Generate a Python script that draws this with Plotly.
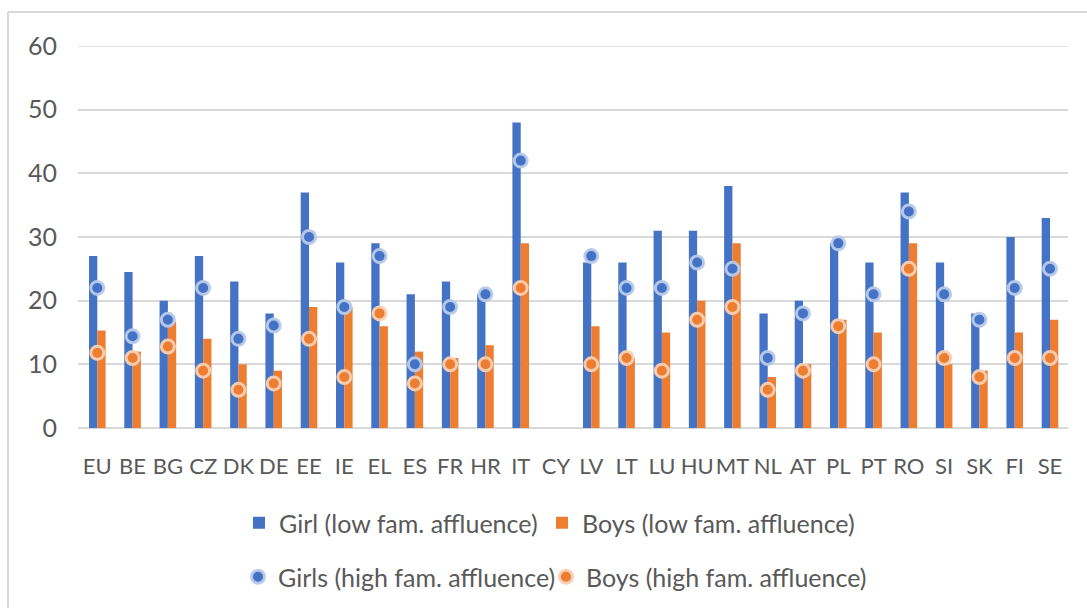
import plotly.graph_objects as go

countries = ["EU", "BE", "BG", "CZ", "DK", "DE", "EE", "IE", "EL", "ES", "FR", "HR", "IT", "CY",
             "LV", "LT", "LU", "HU", "MT", "NL", "AT", "PL", "PT", "RO", "SI", "SK", "FI", "SE"]
girls_low = [27, 24.5, 20, 27, 23, 18, 37, 26, 29, 21, 23, 21, 48, None,
             26, 26, 31, 31, 38, 18, 20, 29, 26, 37, 26, 18, 30, 33]
boys_low = [15.3, 12, 16.7, 14, 10, 9, 19, 19, 16, 12, 11, 13, 29, None,
            16, 11, 15, 20, 29, 8, 10, 17, 15, 29, 10, 9, 15, 17]
girls_high = [22, 14.4, 17, 22, 14, 16.1, 30, 19, 27, 10, 19, 21, 42, None,
              27, 22, 22, 26, 25, 11, 18, 29, 21, 34, 21, 17, 22, 25]
boys_high = [11.8, 11, 12.8, 9, 6, 7, 14, 8, 18, 7, 10, 10, 22, None,
             10, 11, 9, 17, 19, 6, 9, 16, 10, 25, 11, 8, 11, 11]
y_ticks = [0, 10, 20, 30, 40, 50, 60]

BLUE = "#4472C4"
ORANGE = "#ED7D31"
TEXT = "#595959"
GRID = "#D9D9D9"
FONT = "Lato"

fig = go.Figure()
fig.add_trace(go.Bar(x=countries, y=girls_low, name="Girl (low fam. affluence)",
                     marker=dict(color=BLUE, line_width=0), legend="legend", showlegend=True))
fig.add_trace(go.Bar(x=countries, y=boys_low, name="Boys (low fam. affluence)",
                     marker=dict(color=ORANGE, line_width=0), legend="legend2", showlegend=True))
fig.add_trace(go.Scatter(x=countries, y=girls_high, name="Girls (high fam. affluence)",
                         mode="markers", legend="legend3", showlegend=True,
                         marker=dict(color=BLUE, size=13, line=dict(color="rgba(185,203,234,0.95)", width=3))))
fig.add_trace(go.Scatter(x=countries, y=boys_high, name="Boys (high fam. affluence)",
                         mode="markers", legend="legend4", showlegend=True,
                         marker=dict(color=ORANGE, size=13, line=dict(color="rgba(249,208,180,0.95)", width=3))))

plot_l, plot_r, plot_t, plot_b = 78, 1068, 46, 428
W, H = 1087, 608
pw, ph = plot_r - plot_l, plot_b - plot_t

def px_x(x):
    return (x - plot_l) / pw

def px_y(y):
    return (plot_b - y) / ph

def leg(x, y):
    return dict(orientation="h", x=px_x(x), xanchor="left", y=px_y(y), yanchor="middle",
                font=dict(size=25, color=TEXT, family=FONT), visible=True,
                bgcolor="rgba(0,0,0,0)", itemwidth=30)

n = len(countries)
step = (1050 - 97.3) / (n - 1)
x_lo = (plot_l - 97.3) / step
x_hi = (plot_r - 97.3) / step

fig.update_layout(
    width=W, height=H,
    margin=dict(l=plot_l, r=W - plot_r, t=plot_t, b=H - plot_b, autoexpand=False),
    paper_bgcolor="white", plot_bgcolor="white",
    showlegend=True,
    barmode="group", bargap=0.53, bargroupgap=0,
    font=dict(family=FONT, size=22, color=TEXT),
    legend=leg(239, 523),
    legend2=leg(542, 523),
    legend3=leg(238, 577),
    legend4=leg(546, 577),
    xaxis=dict(type="category", categoryorder="array", categoryarray=countries,
               range=[x_lo, x_hi], showgrid=False, showline=False, automargin=False,
               ticks="", ticklabelstandoff=23, tickfont=dict(size=22, color=TEXT),
               fixedrange=True),
    yaxis=dict(range=[0, 60], tickvals=y_ticks, showgrid=True, gridcolor=GRID, gridwidth=1.6,
               zeroline=True, zerolinecolor=GRID, zerolinewidth=1.6, showline=False,
               automargin=False,
               ticks="", ticklabelstandoff=20, tickfont=dict(size=25, color=TEXT),
               fixedrange=True),
    shapes=[
        dict(type="line", xref="paper", yref="y", x0=0, x1=1, y0=60, y1=60,
             line=dict(color=GRID, width=1.6), layer="below"),
        dict(type="line", xref="paper", yref="paper", x0=px_x(8), x1=px_x(1100),
             y0=px_y(12), y1=px_y(12), line=dict(color=GRID, width=2)),
        dict(type="line", xref="paper", yref="paper", x0=px_x(8), x1=px_x(8),
             y0=px_y(12), y1=px_y(620), line=dict(color=GRID, width=2)),
    ],
)

fig.write_html("out.html", config={"displayModeBar": False},
               post_script="document.body.style.margin='0';document.body.style.padding='0';")
